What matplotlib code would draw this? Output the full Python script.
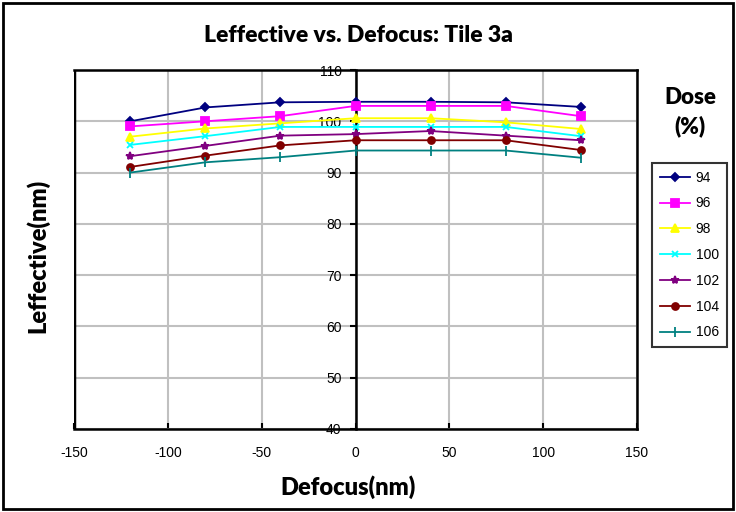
import matplotlib.pyplot as plt
from matplotlib.patches import Rectangle

defocus = [-120, -80, -40, 0, 40, 80, 120]
dose_labels = ["94", "96", "98", "100", "102", "104", "106"]

leff_94 = [100.0, 102.7, 103.7, 103.8, 103.8, 103.7, 102.8]
leff_96 = [99.0, 100.0, 101.0, 103.0, 103.0, 103.0, 101.0]
leff_98 = [97.0, 98.6, 99.6, 100.6, 100.6, 99.8, 98.5]
leff_100 = [95.4, 97.1, 98.9, 98.9, 98.9, 98.9, 97.1]
leff_102 = [93.2, 95.2, 97.2, 97.5, 98.1, 97.2, 96.3]
leff_104 = [91.1, 93.3, 95.3, 96.3, 96.3, 96.3, 94.4]
leff_106 = [90.0, 92.0, 93.0, 94.3, 94.3, 94.3, 92.9]

series = [leff_94, leff_96, leff_98, leff_100, leff_102, leff_104, leff_106]
colors = ["#000080", "#FF00FF", "#FFFF00", "#00FFFF", "#800080", "#800000", "#008080"]
markers = ["D", "s", "^", "x", "*", "o", "|"]
msizes = [4, 6, 6, 5, 6, 5, 7]

plt.rcParams['font.family'] = ['Liberation Sans', 'DejaVu Sans']
plt.rcParams['axes.unicode_minus'] = False
label_font = dict(family=['Lato', 'DejaVu Sans'], fontweight='heavy')

fig = plt.figure(figsize=(7.36, 5.12), dpi=100)
ax = fig.add_axes([74 / 736, 1 - 429 / 512, (637 - 74) / 736, (429 - 70) / 512])

for vals, lab, c, m, ms in zip(series, dose_labels, colors, markers, msizes):
    ax.plot(defocus, vals, color=c, marker=m, markersize=ms, linewidth=1.3,
            markeredgewidth=1.3, label=lab, zorder=3)

ax.set_xlim(-150, 150)
ax.set_ylim(40, 110)
ax.set_xticks([-150, -100, -50, 0, 50, 100, 150])
ax.set_yticks([40, 50, 60, 70, 80, 90, 100, 110])
ax.grid(True, color="#C0C0C0", linewidth=1.5, zorder=0)
ax.set_axisbelow(True)

for s in ax.spines.values():
    s.set_linewidth(1.8)
    s.set_color("black")
ax.spines['left'].set_position(('data', 0))
ax.axvline(-150, color="black", linewidth=2.5, zorder=4)
ax.tick_params(axis='both', labelsize=10, width=1.5, length=4)
ax.tick_params(axis='x', direction='in', pad=12)
ax.tick_params(axis='y', direction='out', pad=6)

fig.text(358 / 736, 1 - 35 / 512, "Leffective vs. Defocus: Tile 3a",
         ha='center', va='center', fontsize=16.5, **label_font)
fig.text(348 / 736, 1 - 487 / 512, "Defocus(nm)", ha='center', va='center',
         fontsize=17, **label_font)
fig.text(38 / 736, 1 - 256 / 512, "Leffective(nm)", ha='center', va='center',
         rotation=90, fontsize=17, **label_font)
fig.text(690 / 736, 1 - 112 / 512, "Dose\n(%)", ha='center', va='center',
         fontsize=16, linespacing=1.4, **label_font)

handles, labels = ax.get_legend_handles_labels()
leg = fig.legend(handles, labels, loc='upper left', bbox_to_anchor=(652 / 736, 1 - 163 / 512),
                 frameon=True, fancybox=False, edgecolor='black', fontsize=10,
                 handlelength=2.2, labelspacing=0.85, borderpad=0.55, handletextpad=0.4,
                 borderaxespad=0)
leg.get_frame().set_linewidth(1.5)

fig.patches.append(Rectangle((0.004, 0.005), 0.992, 0.99, transform=fig.transFigure,
                             fill=False, edgecolor='black', linewidth=2))

fig.savefig("out.png", dpi=100)
